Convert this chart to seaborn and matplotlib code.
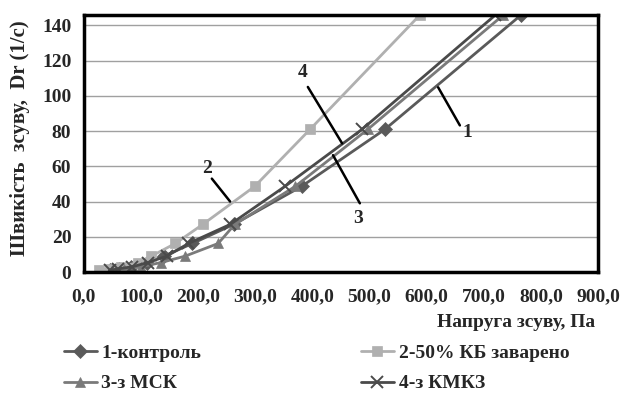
import numpy as np
import pandas as pd
import matplotlib
matplotlib.use('Agg')
import matplotlib.pyplot as plt
import seaborn as sns
from matplotlib.ticker import FuncFormatter

# --- дані ---
series_names = ['1-контроль', '2-50% КБ заварено', '3-з МСК', '4-з КМКЗ']
dr_levels = [1.0, 1.8, 3.0, 5.4, 9.0, 16.2, 27.0, 48.6, 81.0, 145.8]

tau_1 = [45, 62, 82, 110, 140, 190, 262, 381, 527, 765]
tau_2 = [27, 45, 65, 95, 118, 160, 208, 299, 396, 588]
tau_3 = [50, 70, 100, 135, 177, 235, 264, 370, 497, 734]
tau_4 = [45, 60, 85, 112, 145, 183, 256, 352, 487, 720]

colors = ['#5a5a5a', '#b0b0b0', '#7a7a7a', '#4a4a4a']
markers = ['D', 's', '^', 'x']

sns.set_style('white')
plt.rcParams['font.family'] = ['Liberation Serif', 'DejaVu Serif']
plt.rcParams['font.weight'] = 'bold'

fig = plt.figure(figsize=(6.35, 3.96), dpi=100)
ax = fig.add_axes([0.132, 0.313, 0.810, 0.649])

for name, tau, c, m in zip(series_names, [tau_1, tau_2, tau_3, tau_4], colors, markers):
    d = pd.DataFrame({'tau': tau, 'dr': dr_levels})
    if m == 'x':
        kw = dict(markersize=9, markeredgewidth=1.4)
    else:
        kw = dict(markersize=7, markeredgewidth=0.5)
    sns.lineplot(data=d, x='tau', y='dr', color=c, marker=m, sort=False,
                 linewidth=2.0, label=name, markeredgecolor=c, ax=ax, **kw)

ax.set_xlim(0, 900)
ax.set_ylim(0, 145.8)
ax.set_xticks(np.arange(0, 901, 100))
ax.set_yticks(np.arange(0, 141, 20))
ax.xaxis.set_major_formatter(FuncFormatter(lambda v, p: f'{v:.1f}'.replace('.', ',')))
ax.yaxis.grid(True, color='#a0a0a0', linewidth=1.0)
ax.xaxis.grid(False)
for s in ax.spines.values():
    s.set_color('black')
    s.set_linewidth(2.5)
ax.tick_params(axis='both', labelsize=14, length=4, color='#a0a0a0', width=1, direction='out')
ax.tick_params(axis='x', pad=8)
ax.tick_params(axis='y', pad=5)
for t in ax.get_xticklabels() + ax.get_yticklabels():
    t.set_fontweight('bold')

ax.set_xlabel('Напруга зсуву, Па', fontsize=14, fontweight='bold')
ax.xaxis.set_label_coords(0.995, -0.198)
ax.xaxis.label.set_horizontalalignment('right')
ax.xaxis.label.set_verticalalignment('center')
ax.set_ylabel('Швикість  зсуву,  Dr (1/с)', fontsize=15, fontweight='bold')
ax.yaxis.set_label_coords(-0.105, 0.52)

# підписи кривих
notes = [('1', (620, 104.8), (658, 83.2), (671, 79)),
         ('3', (436, 66.3), (483, 39), (480, 30.6)),
         ('4', (392, 105), (452, 73), (382, 113)),
         ('2', (224, 53), (256, 40), (215, 59))]
for txt, p0, p1, pl in notes:
    ax.plot([p0[0], p1[0]], [p0[1], p1[1]], color='black', linewidth=1.8)
    ax.text(pl[0], pl[1], txt, fontsize=14, fontweight='bold', ha='center', va='center')

handles, labels = ax.get_legend_handles_labels()
ax.get_legend().remove()
order = [0, 2, 1, 3]
fig.legend([handles[i] for i in order], [labels[i] for i in order],
           loc='upper left', bbox_to_anchor=(0.100, 0.13),
           ncol=2, frameon=False, handlelength=1.7, borderpad=0, borderaxespad=0,
           handletextpad=0.25, columnspacing=8.2, labelspacing=0.65,
           prop={'weight': 'bold', 'size': 14})

fig.savefig('out.png', dpi=100)
